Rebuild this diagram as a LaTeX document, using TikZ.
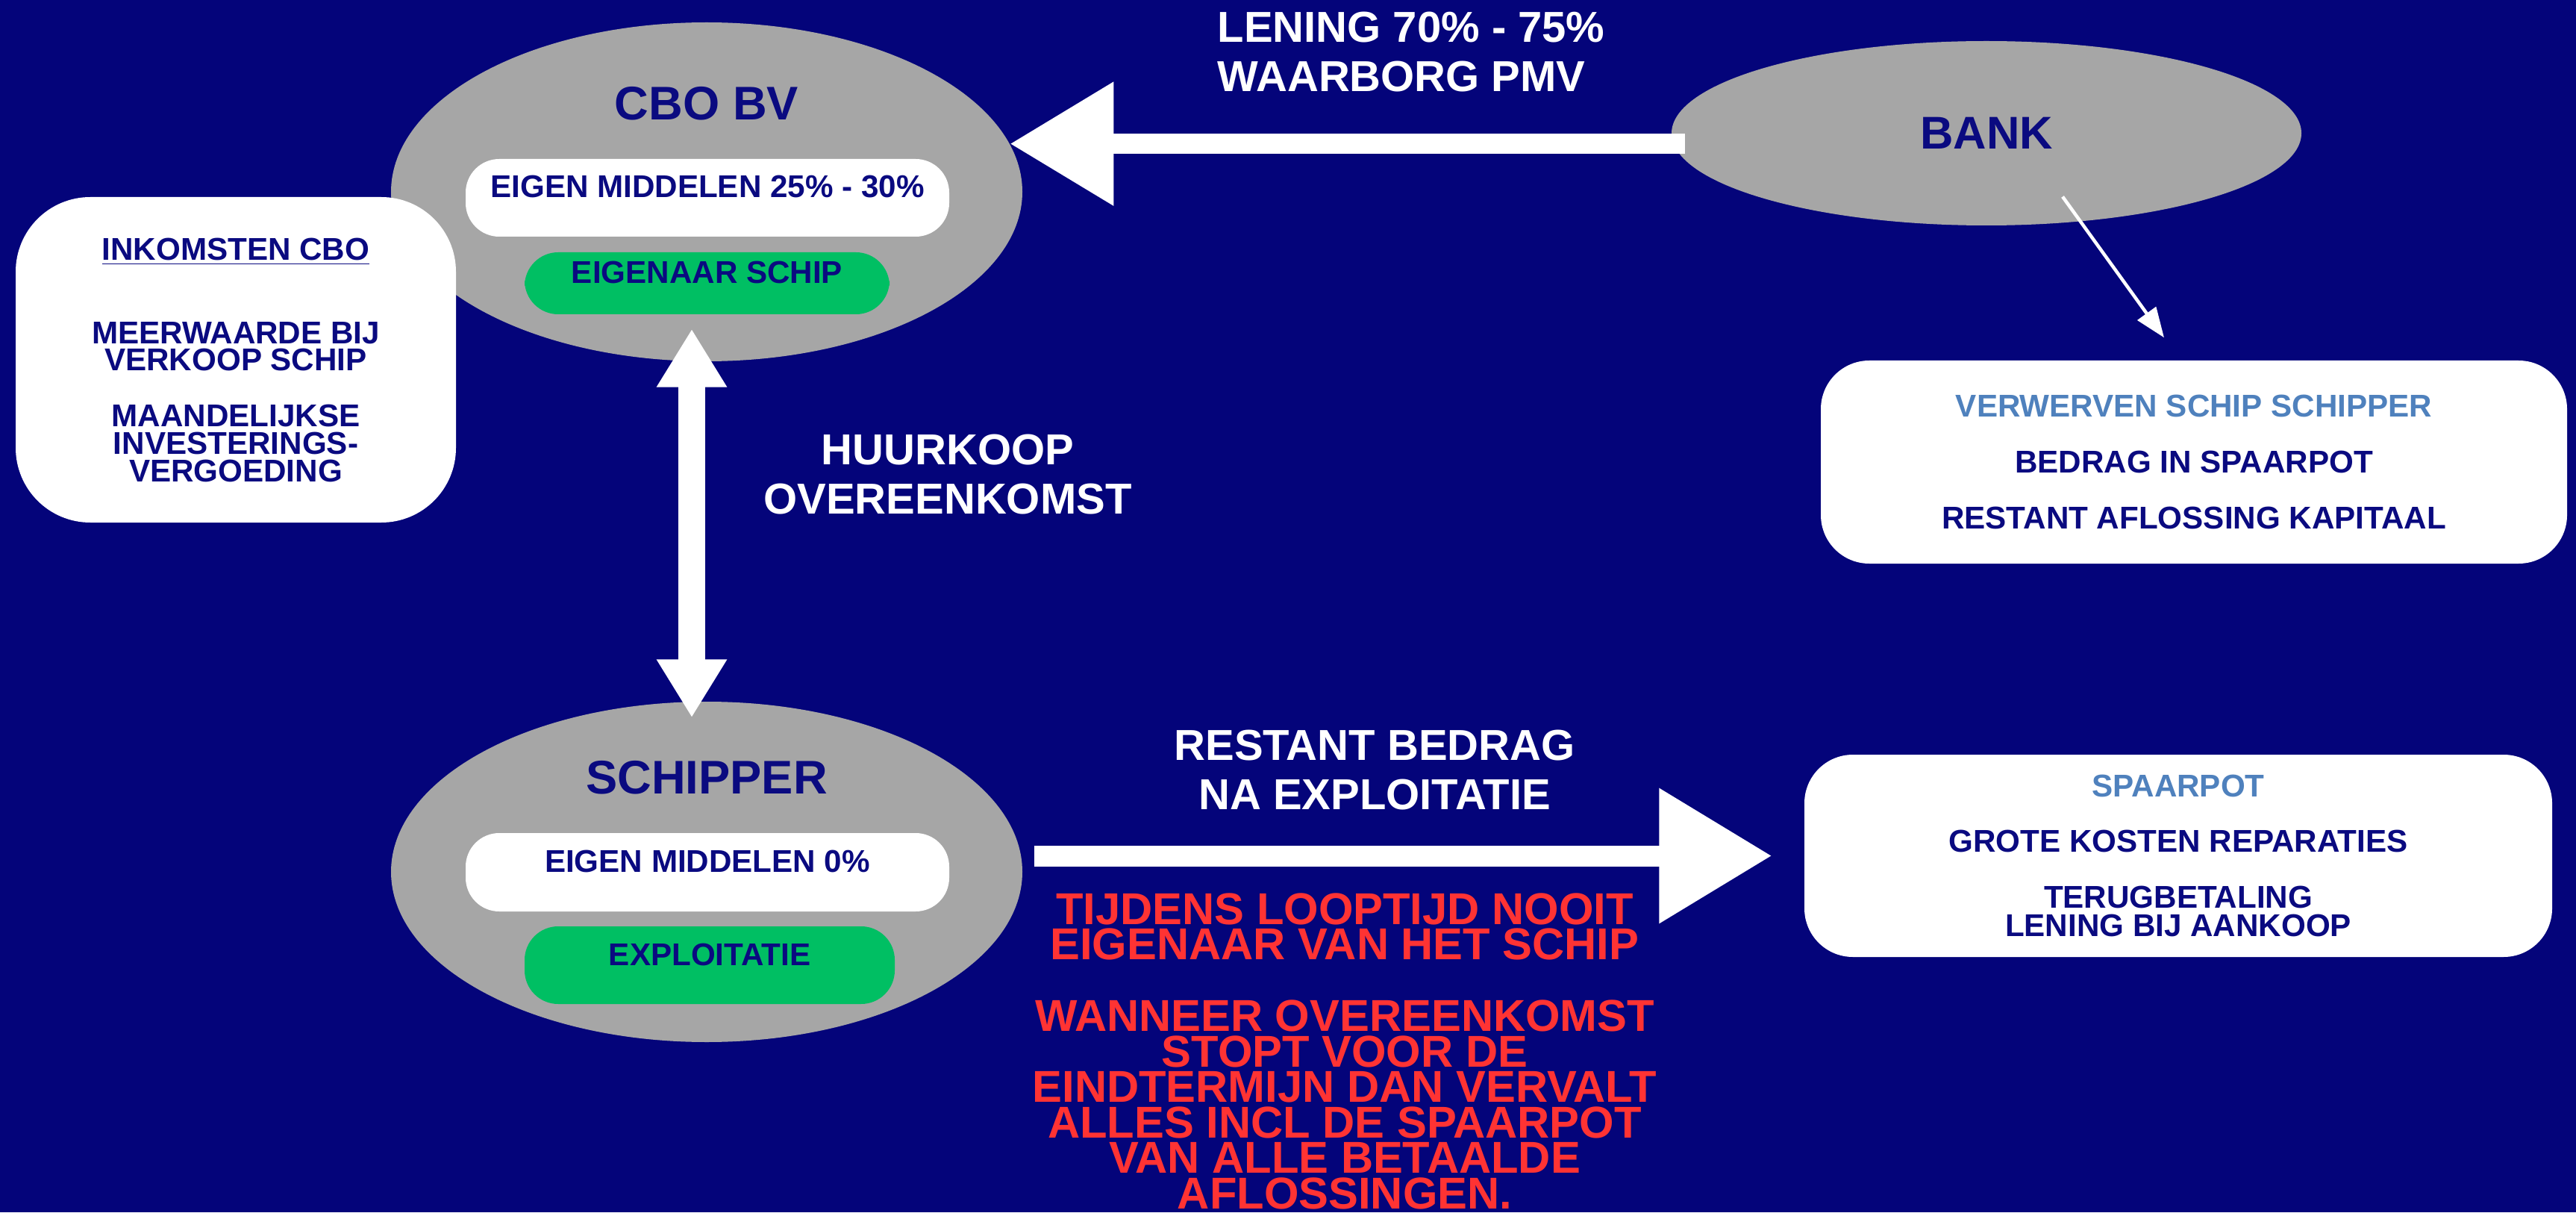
\documentclass[tikz,border=0pt]{standalone}
\usepackage{fontspec}
\setmainfont{Liberation Sans}
\usetikzlibrary{shapes.geometric,arrows.meta,calc}

\definecolor{BackBlue}{RGB}{4,4,122}
\definecolor{TextBlue}{RGB}{10,10,128}
\definecolor{ShipGrey}{RGB}{166,166,166}
\definecolor{ShipGreen}{RGB}{0,191,99}
\definecolor{LightBlue}{RGB}{79,129,189}
\definecolor{WarnRed}{RGB}{255,51,51}

\tikzset{
  VertexGrey/.style = {ellipse, fill = ShipGrey, inner sep = 0pt},
  TitleText/.style  = {text = TextBlue, inner sep = 0pt,
                       font = \bfseries\fontsize{18}{20}\selectfont},
  PillWhite/.style  = {fill = white, rounded corners = 0.45cm, inner sep = 0pt,
                       text = TextBlue, text height = 0.4cm, text depth = 0.4cm,
                       font = \bfseries\fontsize{12}{13}\selectfont},
  PillGreen/.style  = {PillWhite, fill = ShipGreen},
  BoxWhite/.style   = {fill = white, rounded corners = 0.65cm, inner sep = 0pt,
                       text = TextBlue, align = center},
  LabelWhite/.style = {text = white, align = center, inner sep = 0pt,
                       font = \bfseries\fontsize{16.5}{18.8}\selectfont},
  LabelRed/.style   = {text = WarnRed, align = center, inner sep = 0pt,
                       font = \bfseries\fontsize{17}{13.5}\selectfont},
  EdgeBig/.style    = {draw = white, line width = 0.27cm}
}

\begin{document}
\begin{tikzpicture}
\useasboundingbox (0,0) rectangle (34.52,16.24);
\fill[BackBlue] (0,0) rectangle (34.52,16.24);

% cbo bv
\node[VertexGrey, minimum width=8.46cm, minimum height=4.54cm] (cbo) at (9.47,13.67) {};
\node[TitleText] (cbotitle) at (9.47,14.85) {CBO BV};
\node[PillWhite, minimum width=6.48cm, minimum height=1.04cm] (cboown) at (9.48,13.59) {EIGEN MIDDELEN 25\% - 30\%};
\node[PillGreen, minimum width=4.89cm, minimum height=0.83cm] (cboship) at (9.475,12.445) {EIGENAAR SCHIP};

% schipper
\node[VertexGrey, minimum width=8.46cm, minimum height=4.56cm] (schipper) at (9.47,4.56) {};
\node[TitleText] (schippertitle) at (9.47,5.82) {SCHIPPER};
\node[PillWhite, minimum width=6.48cm, minimum height=1.05cm] (schipperown) at (9.48,4.555) {EIGEN MIDDELEN 0\%};
\node[PillGreen, minimum width=4.96cm, minimum height=1.04cm] (schipperwork) at (9.51,3.31) {EXPLOITATIE};

% bank
\node[VertexGrey, minimum width=8.44cm, minimum height=2.47cm, text=TextBlue,
      font=\bfseries\fontsize{17.5}{20}\selectfont] (bank) at (26.62,14.455) {BANK};

% white boxes
\node[BoxWhite, rounded corners=1cm, minimum width=5.90cm, minimum height=4.36cm,
      font=\bfseries\fontsize{12}{10.4}\selectfont] (inkomsten) at (3.16,11.42)
  {\underline{INKOMSTEN CBO}\\[21.5pt]
   MEERWAARDE BIJ\\VERKOOP SCHIP\\[11pt]
   MAANDELIJKSE\\INVESTERINGS-\\VERGOEDING};
\node[BoxWhite, minimum width=10.0cm, minimum height=2.72cm,
      font=\bfseries\fontsize{12}{21.3}\selectfont] (verwerven) at (29.40,10.05)
  {\textcolor{LightBlue}{VERWERVEN SCHIP SCHIPPER}\\BEDRAG IN SPAARPOT\\RESTANT AFLOSSING KAPITAAL};
\node[BoxWhite, minimum width=10.02cm, minimum height=2.71cm,
      font=\bfseries\fontsize{12}{11}\selectfont] (spaarpot) at (29.19,4.775)
  {\textcolor{LightBlue}{SPAARPOT}\\[10.2pt]
   GROTE KOSTEN REPARATIES\\[10.2pt]
   TERUGBETALING\\LENING BIJ AANKOOP};

% labels
\node[LabelWhite, align=left, anchor=west] (lening) at (16.31,15.54) {LENING 70\% - 75\%\\WAARBORG PMV};
\node[LabelWhite] (huurkoop) at (12.70,9.88) {HUURKOOP\\OVEREENKOMST};
\node[LabelWhite] (restant) at (18.42,5.925) {RESTANT BEDRAG\\NA EXPLOITATIE};
\node[LabelRed] (nooit) at (18.02,3.825) {TIJDENS LOOPTIJD NOOIT\\EIGENAAR VAN HET SCHIP};
\node[LabelRed] (vervalt) at (18.02,1.44)
  {WANNEER OVEREENKOMST\\STOPT VOOR DE\\EINDTERMIJN DAN VERVALT\\ALLES INCL DE SPAARPOT\\VAN ALLE BETAALDE\\AFLOSSINGEN.};

% arrows
\draw[EdgeBig, -{Triangle[length=1.39cm,width=1.59cm]}]
  ($(cbo.9.5 -| bank.west)+(0.19,0)$) -- (cbo.9.5);
\draw[EdgeBig, line width=0.36cm,
      {Triangle[length=0.78cm,width=0.89cm]}-{Triangle[length=0.78cm,width=0.89cm]}]
  ($(cbo.south)+(-0.2,0.44)$) -- ($(schipper.north)+(-0.2,-0.22)$);
\draw[EdgeBig, line width=0.28cm, -{Triangle[length=1.51cm,width=1.74cm]}]
  ($(schipper.east |- spaarpot.west)+(0.15,0)$) -- ($(spaarpot.west)+(-0.43,0)$);
\draw[draw=white, line width=0.045cm, -{Triangle[length=0.4cm,width=0.3cm]}]
  ($(bank.center)+(1.02,-0.85)$) -- ($(verwerven.north)+(-0.4,0.3)$);

\end{tikzpicture}
\end{document}
